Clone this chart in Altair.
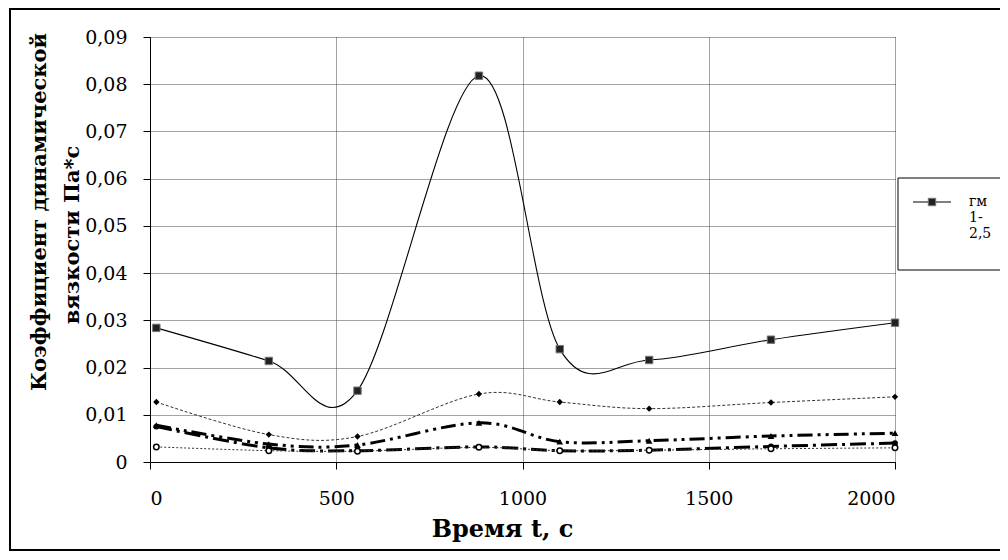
import altair as alt
import pandas as pd

times = [17, 319, 557, 883, 1100, 1340, 1667, 2000]
s1 = [0.0284, 0.0214, 0.0151, 0.0818, 0.0239, 0.0216, 0.0259, 0.0295]
s2 = [0.0127, 0.0058, 0.0054, 0.0144, 0.0127, 0.0113, 0.0126, 0.0138]
s3 = [0.0078, 0.0038, 0.0036, 0.0083, 0.0043, 0.0045, 0.0055, 0.0061]
s4 = [0.0075, 0.0030, 0.0024, 0.0032, 0.0024, 0.0025, 0.0033, 0.0040]
s5 = [0.0032, 0.0024, 0.0023, 0.0031, 0.0024, 0.0025, 0.0028, 0.0030]
series_names = ["s1", "s2", "s3", "s4", "s5"]
legend_lines = ["гм", "1-", "2,5"]
y_title_lines = ["Коэффициент динамической", "вязкости  Па*с"]
x_title = "Время t, с"
x_ticks = [0, 500, 1000, 1500, 2000]
y_ticks = [0, 0.01, 0.02, 0.03, 0.04, 0.05, 0.06, 0.07, 0.08, 0.09]

rows = []
for name, vals in zip(series_names, [s1, s2, s3, s4, s5]):
    for t, v in zip(times, vals):
        rows.append({"series": name, "t": t, "v": v})
df = pd.DataFrame(rows)

FONT = "DejaVu Serif"

X = alt.X("t:Q", scale=alt.Scale(domain=[0, 2000], nice=False),
          axis=alt.Axis(values=x_ticks, title=x_title, format="d",
                        labelFontSize=19, labelPadding=20, tickSize=7,
                        titleFontSize=24, titleFontWeight="bold",
                        titleBaseline="alphabetic", titleY=74, titleX=352))
Y = alt.Y("v:Q", scale=alt.Scale(domain=[0, 0.09], nice=False),
          axis=alt.Axis(values=y_ticks,
                        labelExpr="datum.value == 0 ? '0' : replace(format(datum.value, '.2f'), '.', ',')",
                        title=None,
                        labelFontSize=19, labelPadding=16, tickSize=7))

styles = {
    "s1": dict(line=dict(stroke="black", strokeWidth=1.1),
               point=dict(shape="square", filled=True, fill="#222", stroke="#777", strokeWidth=1, size=55)),
    "s2": dict(line=dict(stroke="#333", strokeWidth=1, strokeDash=[3, 2]),
               point=dict(shape="diamond", filled=True, fill="black", size=40)),
    "s3": dict(line=dict(stroke="black", strokeWidth=3, strokeDash=[15, 5, 3, 5, 3, 5]),
               point=dict(shape="triangle-up", filled=True, fill="black", size=45)),
    "s4": dict(line=dict(stroke="black", strokeWidth=3, strokeDash=[16, 5, 3, 5]),
               point=dict(shape="circle", filled=True, fill="black", size=35)),
    "s5": dict(line=dict(stroke="#333", strokeWidth=1, strokeDash=[2, 2]),
               point=dict(shape="circle", filled=True, fill="white", stroke="black", strokeWidth=1.5, size=30)),
}

layers = []
for name in series_names:
    st = styles[name]
    base = alt.Chart(df).transform_filter(alt.datum.series == name)
    layers.append(base.mark_line(interpolate="cardinal", **st["line"]).encode(x=X, y=Y))
for name in series_names:
    st = styles[name]
    base = alt.Chart(df).transform_filter(alt.datum.series == name)
    layers.append(base.mark_point(opacity=1, **st["point"]).encode(x=X, y=Y))

one = pd.DataFrame({"a": [0]})
frame = alt.Chart(one).mark_rect(fillOpacity=0, stroke="black", strokeWidth=2).encode(
    x=alt.value(-140), x2=alt.value(880), y=alt.value(-28), y2=alt.value(513))
legend_box = alt.Chart(one).mark_rect(fill="white", stroke="black", strokeWidth=1).encode(
    x=alt.value(748), x2=alt.value(900), y=alt.value(141), y2=alt.value(233))
legend_line = alt.Chart(one).mark_rule(color="black", strokeWidth=1.1).encode(
    x=alt.value(763), x2=alt.value(801), y=alt.value(165))
legend_pt = alt.Chart(one).mark_point(shape="square", filled=True, fill="#222", stroke="#777",
                                      strokeWidth=1, size=55, opacity=1).encode(
    x=alt.value(782), y=alt.value(165))
legend_texts = [
    alt.Chart(one).mark_text(align="left", baseline="middle", font=FONT, fontSize=14).encode(
        text=alt.value(txt), x=alt.value(819), y=alt.value(165 + 16 * i))
    for i, txt in enumerate(legend_lines)
]
y_title_pos = [(-110, 175), (-77, 198)]
y_titles = [
    alt.Chart(one).mark_text(align="center", baseline="middle", angle=270, font=FONT,
                             fontSize=21, fontWeight="bold", color="black").encode(
        text=alt.value(txt), x=alt.value(px), y=alt.value(py))
    for txt, (px, py) in zip(y_title_lines, y_title_pos)
]

chart = alt.layer(*layers, frame, legend_box, legend_line, legend_pt, *legend_texts, *y_titles).properties(
    width=745, height=425,
    autosize=alt.AutoSizeParams(type="none"),
    padding={"left": 142, "top": 29, "right": 105, "bottom": 90},
).configure_view(stroke=None).configure_axis(
    labelFont=FONT, titleFont=FONT, labelColor="black", titleColor="black",
    domainColor="black", domainWidth=1, tickColor="black", tickWidth=1,
    gridColor="#444", gridDash=[1, 1], gridWidth=1, gridOpacity=1,
)

chart.save("out.html", embed_options={"renderer": "svg", "actions": False})
